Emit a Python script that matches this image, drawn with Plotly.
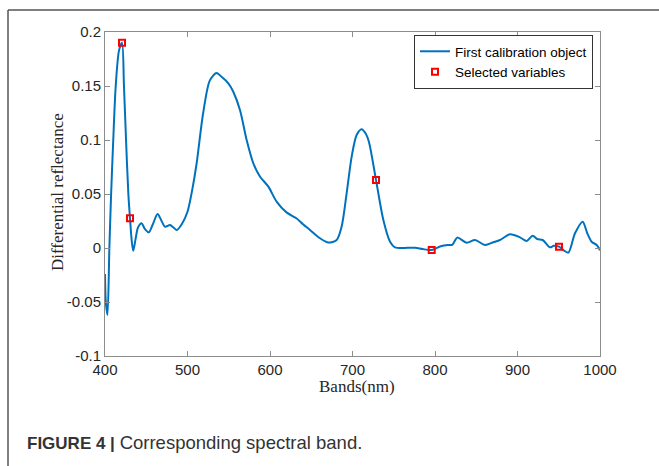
import plotly.graph_objects as go

# Spectrum
bands = [400, 401, 403, 405.3, 407.3, 410, 413, 417, 420.6, 423, 425.5, 428.3, 430.3, 432.5,
         434.3, 437, 440, 444.4, 448, 453, 458, 463.7, 468, 472.7, 478.8, 483, 487, 493,
         500, 506, 511, 519, 527, 535, 542, 549.5, 555.5, 563.6, 571.7, 579.8, 588, 598,
         608, 620, 632, 640, 648.5, 660.6, 670.7, 680.8, 686.8, 692.9, 699, 705, 711,
         716, 720, 728.5, 737.4, 745.5, 751.5, 775.8, 785, 796, 808, 816, 821, 827, 838.4,
         848.5, 860.6, 870.7, 878.8, 890.9, 903, 911.2, 918.4, 924, 930.5, 939.4, 944,
         950.3, 955.5, 961.6, 969.7, 979, 984.6, 989.9, 996, 1000]
reflectance = [-0.024, -0.05, -0.062, 0.0, 0.0475, 0.1, 0.15, 0.183, 0.19, 0.15, 0.1, 0.05,
               0.0275, 0.006, -0.0025, 0.008, 0.019, 0.023, 0.018, 0.0145, 0.022, 0.0315,
               0.026, 0.0197, 0.0213, 0.019, 0.0167, 0.022, 0.0336, 0.055, 0.078, 0.125,
               0.155, 0.162, 0.158, 0.1525, 0.1447, 0.1278, 0.1, 0.0784, 0.066, 0.0568,
               0.043, 0.033, 0.0275, 0.022, 0.0167, 0.009, 0.005, 0.0074, 0.0197, 0.0506,
               0.0846, 0.1046, 0.11, 0.106, 0.098, 0.063, 0.0259, 0.0058, 0.0006, 0.0003,
               -0.001, -0.0019, 0.0019, 0.0028, 0.003, 0.0096, 0.0049, 0.0074, 0.0028,
               0.0053, 0.0074, 0.0127, 0.0099, 0.0065, 0.0114, 0.0083, 0.0074, 0.0006,
               0.002, 0.0012, -0.0019, -0.0043, 0.0136, 0.0244, 0.0136, 0.0058, 0.0028, -0.002]

# Selected variables
sel_bands = [420.6, 430.3, 728.5, 796, 950.3]
sel_values = [0.19, 0.0275, 0.063, -0.0019, 0.0012]

x_ticks = [400, 500, 600, 700, 800, 900, 1000]
y_ticks = [-0.1, -0.05, 0, 0.05, 0.1, 0.15, 0.2]
y_ticktext = ["-0.1", "-0.05", "0", "0.05", "0.1", "0.15", "0.2"]

fig = go.Figure()
fig.add_trace(go.Scatter(
    x=bands, y=reflectance, mode="lines", name="First calibration object",
    line=dict(color="#0072BD", width=2, shape="spline", smoothing=0.8)))
fig.add_trace(go.Scatter(
    x=sel_bands, y=sel_values, mode="markers", name="Selected variables",
    marker=dict(symbol="square-open", size=6, color="#FF0000", line=dict(width=2, color="#FF0000"))))

axis_common = dict(showline=True, linecolor="#8c8c8c", linewidth=1, mirror="ticks",
                   ticks="inside", ticklen=5, tickcolor="#8c8c8c", showgrid=False,
                   zeroline=False, tickfont=dict(family="Liberation Sans, Arial", size=15, color="#262626"))

fig.update_xaxes(range=[400, 1000], tickvals=x_ticks, **axis_common)
fig.update_yaxes(range=[-0.1, 0.2], tickvals=y_ticks, ticktext=y_ticktext, **axis_common)

W, H = 659, 466
L, R, T, B = 105, 600, 32, 356
def px(xp):
    return (xp - L) / (R - L)
def py(yp):
    return (B - yp) / (B - T)

fig.update_layout(
    width=W, height=H,
    margin=dict(l=L, r=W - R, t=T, b=H - B),
    paper_bgcolor="white", plot_bgcolor="white",
    showlegend=True,
    legend=dict(x=px(593), y=py(35), xanchor="right", yanchor="top",
                bordercolor="#333333", borderwidth=1, bgcolor="white",
                font=dict(family="Liberation Sans, Arial", size=13.5, color="#000000"),
                tracegroupgap=0, itemwidth=30),
    shapes=[
        dict(type="line", xref="paper", yref="paper", x0=px(8), x1=px(659), y0=py(10), y1=py(10),
             line=dict(color="#555555", width=1.5)),
        dict(type="line", xref="paper", yref="paper", x0=px(8), x1=px(8), y0=py(10), y1=py(466),
             line=dict(color="#555555", width=1.5)),
    ],
    annotations=[
        dict(text="Differential reflectance", xref="paper", yref="paper", x=px(57), y=py(192),
             xanchor="center", yanchor="middle", textangle=-90, showarrow=False,
             font=dict(family="Liberation Serif, Times New Roman", size=17, color="#262626")),
        dict(text="Bands(nm)", xref="paper", yref="paper", x=px(357), y=py(386),
             xanchor="center", yanchor="middle", showarrow=False,
             font=dict(family="Liberation Serif, Times New Roman", size=17, color="#262626")),
        dict(text="<b>FIGURE 4 |</b> <span style='font-size:18.5px'>Corresponding spectral band.</span>",
             xref="paper", yref="paper",
             x=px(25), y=py(442), xanchor="left", yanchor="middle", showarrow=False,
             font=dict(family="Liberation Sans, Arial", size=17, color="#333333")),
    ],
)

fig.write_html("out.html", config={"displayModeBar": False},
               post_script="document.body.style.margin='0';document.body.style.overflow='hidden';")
